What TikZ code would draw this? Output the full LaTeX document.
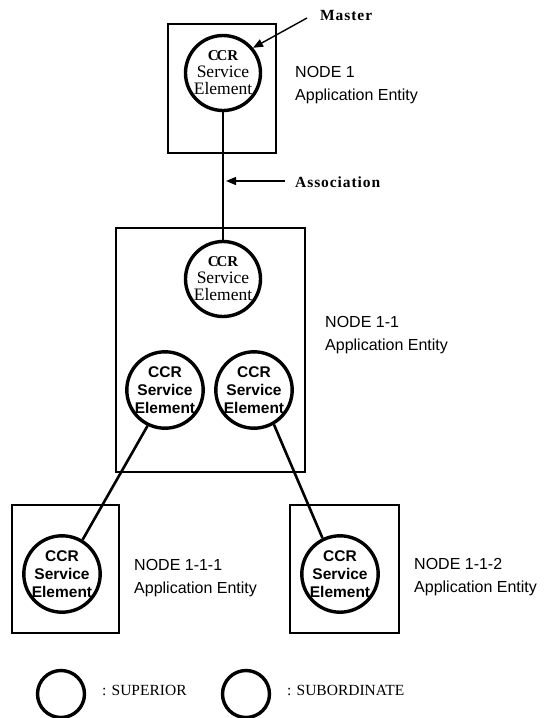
\documentclass[tikz,border=0pt]{standalone}
\usepackage{fontspec}
\setmainfont{Liberation Serif}
\newfontfamily\labelfont{Liberation Sans}
\usetikzlibrary{arrows.meta}

\begin{document}
\begin{tikzpicture}[x=1pt,y=-1pt,
  entity/.style={draw, line width=1.8pt, inner sep=0pt},
  cse/.style={circle, draw, line width=3.4pt, minimum size=75pt, inner sep=0pt, align=center},
  cseserif/.style={cse, font=\fontsize{17.5}{17}\selectfont},
  csesans/.style={cse, font=\labelfont\bfseries\fontsize{15.5}{18}\selectfont},
  link/.style={line width=2.6pt},
  pointer/.style={line width=1.4pt, -{Triangle[length=10pt,width=8pt]}},
  nodelabel/.style={anchor=west, align=left, inner sep=0pt, font=\labelfont\fontsize{16}{23}\selectfont},
  callout/.style={anchor=west, inner sep=0pt, font=\bfseries\fontsize{15.5}{15}\selectfont\addfontfeature{LetterSpace=6}},
  legendtext/.style={anchor=west, inner sep=0pt, font=\fontsize{15.5}{15}\selectfont},
  legendring/.style={circle, draw, line width=3.4pt, minimum size=47pt, inner sep=0pt}]

\useasboundingbox (0,0) rectangle (550,718);

% application entities
\node[entity, minimum width=108pt, minimum height=129pt] (ae1) at (222,88.5) {};
\node[entity, minimum width=189pt, minimum height=244pt] (ae11) at (210.5,350) {};
\node[entity, minimum width=107pt, minimum height=128pt] (ae111) at (65.5,569) {};
\node[entity, minimum width=109pt, minimum height=128pt] (ae112) at (344.5,569) {};

% CCR service elements
\node[cseserif] (top) at (223,73) {{\bfseries\fontsize{15}{17}\selectfont C\kern-2pt CR}\\Service\\Element};
\node[cseserif] (mid) at (223,279) {{\bfseries\fontsize{15}{17}\selectfont C\kern-2pt CR}\\Service\\Element};
\node[csesans] (left) at (165,390) {CCR\\Service\\Element};
\node[csesans] (right) at (254,390) {CCR\\Service\\Element};
\node[csesans] (bl) at (62,574) {CCR\\Service\\Element};
\node[csesans] (br) at (340,574) {CCR\\Service\\Element};

% associations
\draw[link, line width=2.2pt] (top.south) -- (mid.north);
\draw[link] (left.244) -- (bl.59);
\draw[link] (right.300) -- (br.116);

% entity labels
\node[nodelabel] (lab1) at (295,85) {NODE 1\\Application Entity};
\node[nodelabel] (lab11) at (325,335.5) {NODE 1-1\\Application Entity};
\node[nodelabel] (lab111) at (134,578.5) {NODE 1-1-1\\Application Entity};
\node[nodelabel] (lab112) at (414,577.5) {NODE 1-1-2\\Application Entity};

% callouts
\node[callout] (master) at (320,15) {Master};
\coordinate (mtail) at (307,18);
\draw[pointer] (mtail) -- (top.40);

\node[callout] (assoc) at (295,182) {Association};
\coordinate (atail) at (285,181);
\draw[pointer, shorten >=3pt] (atail) -- (atail -| top.south);

% legend
\node[legendring] (sup) at (61,694) {};
\node[legendtext] (suptext) at (102,690) {: SUPERIOR};
\node[legendring] (sub) at (246,694) {};
\node[legendtext] (subtext) at (287,690) {: SUBORDINATE};
\end{tikzpicture}
\end{document}
